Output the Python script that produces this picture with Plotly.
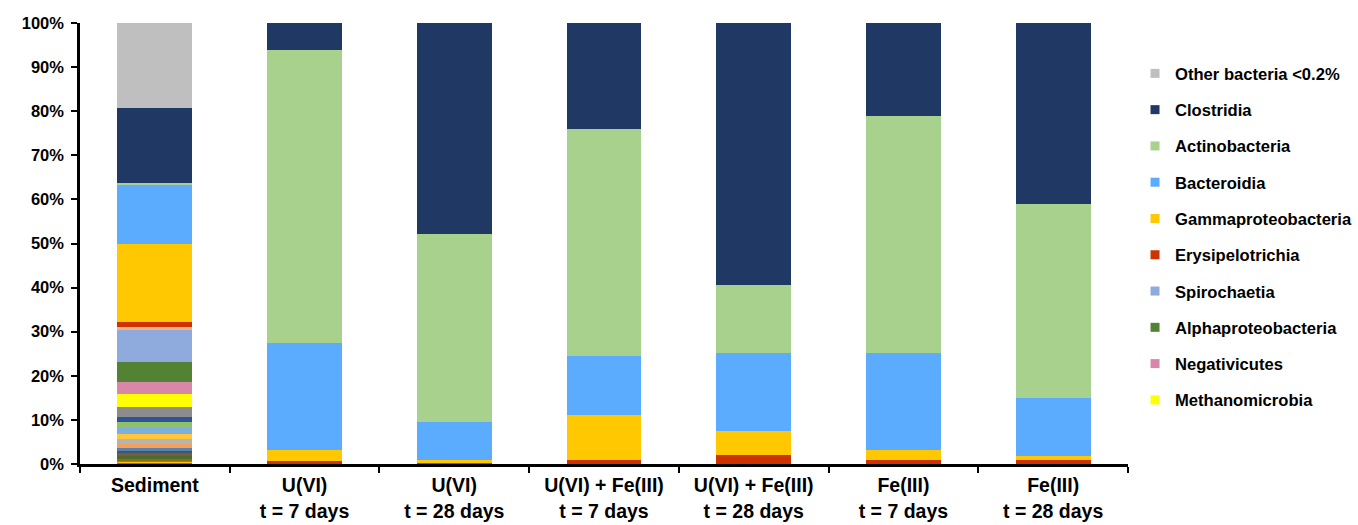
import plotly.graph_objects as go

# Sample groups (x categories)
groups = [
    "Sediment",
    "U(VI)<br>t = 7 days",
    "U(VI)<br>t = 28 days",
    "U(VI) + Fe(III)<br>t = 7 days",
    "U(VI) + Fe(III)<br>t = 28 days",
    "Fe(III)<br>t = 7 days",
    "Fe(III)<br>t = 28 days",
]

# Y-axis ticks
y_tick_values = [0, 10, 20, 30, 40, 50, 60, 70, 80, 90, 100]
y_tick_labels = ["0%", "10%", "20%", "30%", "40%", "50%",
                 "60%", "70%", "80%", "90%", "100%"]

# Relative abundance (%) per class, one value per group
methanomicrobia = [3.0, 0, 0, 0, 0, 0, 0]
negativicutes = [2.65, 0, 0, 0, 0, 0, 0]
alphaproteobacteria = [4.7, 0, 0, 0, 0, 0, 0]
spirochaetia = [7.05, 0, 0, 0, 0, 0, 0]
erysipelotrichia = [1.0, 0.7, 0.2, 1.0, 2.05, 1.0, 1.0]
gammaproteobacteria = [17.7, 2.4, 0.8, 10.1, 5.45, 2.1, 0.9]
bacteroidia = [13.5, 24.4, 8.55, 13.4, 17.7, 22.1, 13.1]
actinobacteria = [0.35, 66.4, 42.7, 51.4, 15.5, 53.7, 43.9]
clostridia = [17.0, 6.1, 47.75, 24.1, 59.3, 21.1, 41.1]
other_bacteria = [19.36, 0, 0, 0, 0, 0, 0]

# Minor sediment classes without a legend entry (bottom to top)
minor_sediment = [0.4, 0.25, 0.25, 0.45, 0.45, 0.7, 0.45, 0.6,
                  0.9, 1.2, 1.15, 1.3, 1.37, 1.27, 2.15]
minor_colors = ["#4472C4", "#FFC000", "#7F7F7F", "#8C6A1E", "#4E6B2E",
                "#7E5A3C", "#2E5F74", "#5F7FA8", "#F4A05C", "#B4B4B4",
                "#FFC638", "#7BAFE0", "#8FC16A", "#2F5597", "#8C8C8C"]
minor_upper = 0.8
minor_upper_color = "#F4B183"

# Legend classes: name, values, colour
classes = [
    ("Methanomicrobia", methanomicrobia, "#FFFF00"),
    ("Negativicutes", negativicutes, "#D987A9"),
    ("Alphaproteobacteria", alphaproteobacteria, "#548235"),
    ("Spirochaetia", spirochaetia, "#8FAADC"),
    ("Erysipelotrichia", erysipelotrichia, "#CC3300"),
    ("Gammaproteobacteria", gammaproteobacteria, "#FFC800"),
    ("Bacteroidia", bacteroidia, "#5BACFF"),
    ("Actinobacteria", actinobacteria, "#A9D18E"),
    ("Clostridia", clostridia, "#1F3864"),
    ("Other bacteria <0.2%", other_bacteria, "#BFBFBF"),
]

FONT = "Liberation Sans, Arial, sans-serif"
BAR_WIDTH = 0.5

fig = go.Figure()


def add_bar(name, values, color):
    fig.add_trace(go.Bar(
        x=groups, y=values, name=name, width=BAR_WIDTH,
        marker=dict(color=color, line=dict(width=0)),
        showlegend=False,
        hovertemplate="%{x}<br>" + name + ": %{y:.2f}%<extra></extra>",
    ))


# Stack: minor classes first, then the named classes bottom to top
for v, c in zip(minor_sediment, minor_colors):
    add_bar("Minor class", [v] + [0] * (len(groups) - 1), c)

for name, vals, col in classes:
    add_bar(name, vals, col)
    if name == "Spirochaetia":
        add_bar("Minor class", [minor_upper] + [0] * (len(groups) - 1),
                minor_upper_color)

# Legend entries with small square swatches, top class listed first
for rank, (name, vals, col) in enumerate(reversed(classes)):
    fig.add_trace(go.Scatter(
        x=[None], y=[None], mode="markers", name=name,
        marker=dict(symbol="square", size=9, color=col),
        legendgroup=name, legendrank=rank + 1, showlegend=True,
        hoverinfo="skip",
    ))

fig.update_layout(
    barmode="stack",
    width=1358, height=525,
    margin=dict(l=80, r=230, t=23, b=61, autoexpand=False),
    paper_bgcolor="white", plot_bgcolor="white",
    font=dict(family=FONT, color="black", size=16, weight="bold"),
    showlegend=True,
    legend=dict(
        x=1.0067, xanchor="left", y=0.925, yanchor="top",
        font=dict(family=FONT, size=16.6, color="black", weight="bold"),
        tracegroupgap=11.7, itemwidth=30, bgcolor="rgba(0,0,0,0)",
    ),
    xaxis=dict(
        type="category", showline=True, linecolor="black", linewidth=2.5,
        ticks="outside", tickson="boundaries", ticklen=6, tickwidth=2,
        tickcolor="black", showgrid=False, zeroline=False,
        ticklabelstandoff=2, automargin=False,
        tickfont=dict(family=FONT, size=19.5, color="black", weight="bold"),
    ),
    yaxis=dict(
        range=[0, 100], tickmode="array", tickvals=y_tick_values,
        ticktext=y_tick_labels, automargin=False,
        showline=True, linecolor="black", linewidth=2.5,
        ticks="outside", ticklen=6, tickwidth=2, tickcolor="black",
        showgrid=False, zeroline=False, ticklabelstandoff=4,
        tickfont=dict(family=FONT, size=16.5, color="black", weight="bold"),
    ),
)

fig.write_html("out.html")
